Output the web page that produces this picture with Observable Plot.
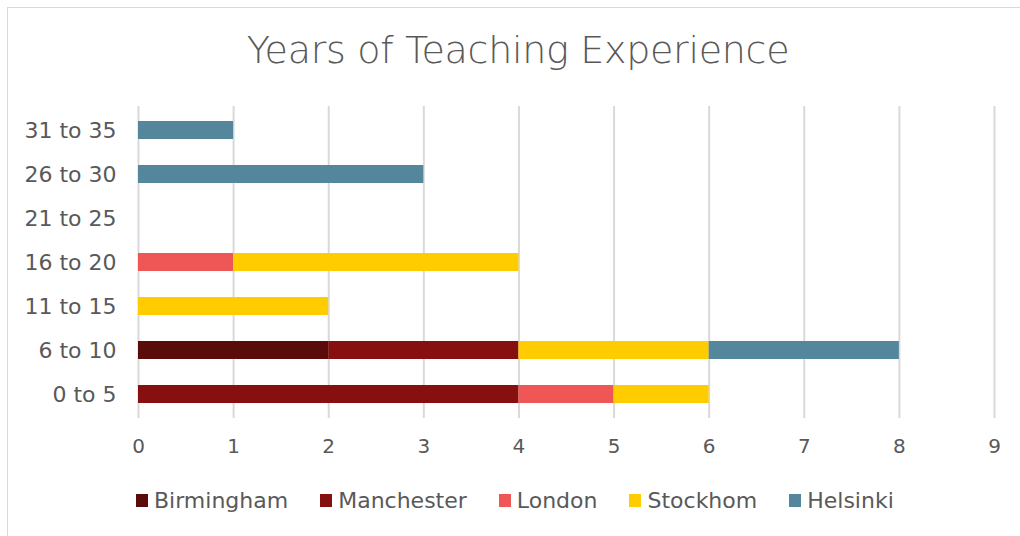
<!DOCTYPE html>
<html>
<head>
<meta charset="utf-8">
<script src="https://cdn.jsdelivr.net/npm/d3@7"></script>
<script src="https://cdn.jsdelivr.net/npm/@observablehq/plot@0.6"></script>
<style>
  html, body { margin: 0; padding: 0; background: #fff; }
  body { width: 1020px; height: 536px; position: relative; overflow: hidden; font-family: "DejaVu Sans", sans-serif; color: #595959; }
  #frame { position: absolute; left: 7px; top: 7px; width: 1030px; height: 540px; border: 1px solid #d9d9d9; box-sizing: border-box; }
  #title { position: absolute; left: 0; width: 1036px; top: 28px; text-align: center; font-size: 38px; font-weight: 300; color: #595959; letter-spacing: -0.3px; }
  #chart { position: absolute; left: 0; top: 90px; }
  #legend { position: absolute; left: 136px; top: 488px; display: flex; align-items: center; font-size: 22px; color: #595959; }
  .item { display: flex; align-items: center; margin-right: 32px; }
  .sw { width: 12px; height: 13px; margin-right: 6px; }
</style>
</head>
<body>
<div id="frame"></div>
<div id="title">Years of Teaching Experience</div>
<div id="chart"></div>
<div id="legend"></div>
<script>
const categories = ["0 to 5", "6 to 10", "11 to 15", "16 to 20", "21 to 25", "26 to 30", "31 to 35"];
const seriesNames = ["Birmingham", "Manchester", "London", "Stockhom", "Helsinki"];
const seriesColors = ["#5A0C0B", "#85100F", "#EF5656", "#FFCC00", "#55879C"];
const birmingham = [0, 2, 0, 0, 0, 0, 0];
const manchester = [4, 2, 0, 0, 0, 0, 0];
const london     = [1, 0, 0, 1, 0, 0, 0];
const stockhom   = [1, 2, 2, 3, 0, 0, 0];
const helsinki   = [0, 2, 0, 0, 0, 3, 1];
const xTicks = [0, 1, 2, 3, 4, 5, 6, 7, 8, 9];

const seriesValues = [birmingham, manchester, london, stockhom, helsinki];
const rows = [];
seriesNames.forEach((s, i) => {
  categories.forEach((c, j) => {
    const v = seriesValues[i][j];
    if (v > 0) rows.push({series: s, category: c, value: v});
  });
});

const plot = Plot.plot({
  width: 1020,
  height: 380,
  marginLeft: 138,
  marginRight: 26,
  marginTop: 16,
  marginBottom: 52,
  style: {fontFamily: "DejaVu Sans, sans-serif", fontSize: "20px", color: "#595959", background: "transparent"},
  x: {domain: [0, 9], ticks: xTicks, tickSize: 0, tickPadding: 20, label: null, tickFormat: d => String(d)},
  y: {domain: categories.slice().reverse(), paddingInner: 0.6, paddingOuter: 0.3, tickSize: 0, tickPadding: 22, label: null},
  color: {domain: seriesNames, range: seriesColors},
  marks: [
    Plot.gridX(xTicks, {stroke: "#d9d9d9", strokeWidth: 2, strokeOpacity: 1}),
    Plot.barX(rows, Plot.stackX({x: "value", y: "category", fill: "series", z: "series", order: seriesNames})),
    Plot.axisY({tickSize: 0, tickPadding: 22, fontSize: 22, label: null}),
    Plot.axisX({ticks: xTicks, tickSize: 0, tickPadding: 20, label: null, fontSize: 20})
  ]
});
document.getElementById("chart").appendChild(plot);

const legend = document.getElementById("legend");
seriesNames.forEach((s, i) => {
  const item = document.createElement("div");
  item.className = "item";
  const sw = document.createElement("div");
  sw.className = "sw";
  sw.style.background = seriesColors[i];
  const t = document.createElement("span");
  t.textContent = s;
  item.appendChild(sw);
  item.appendChild(t);
  legend.appendChild(item);
});
</script>
</body>
</html>
